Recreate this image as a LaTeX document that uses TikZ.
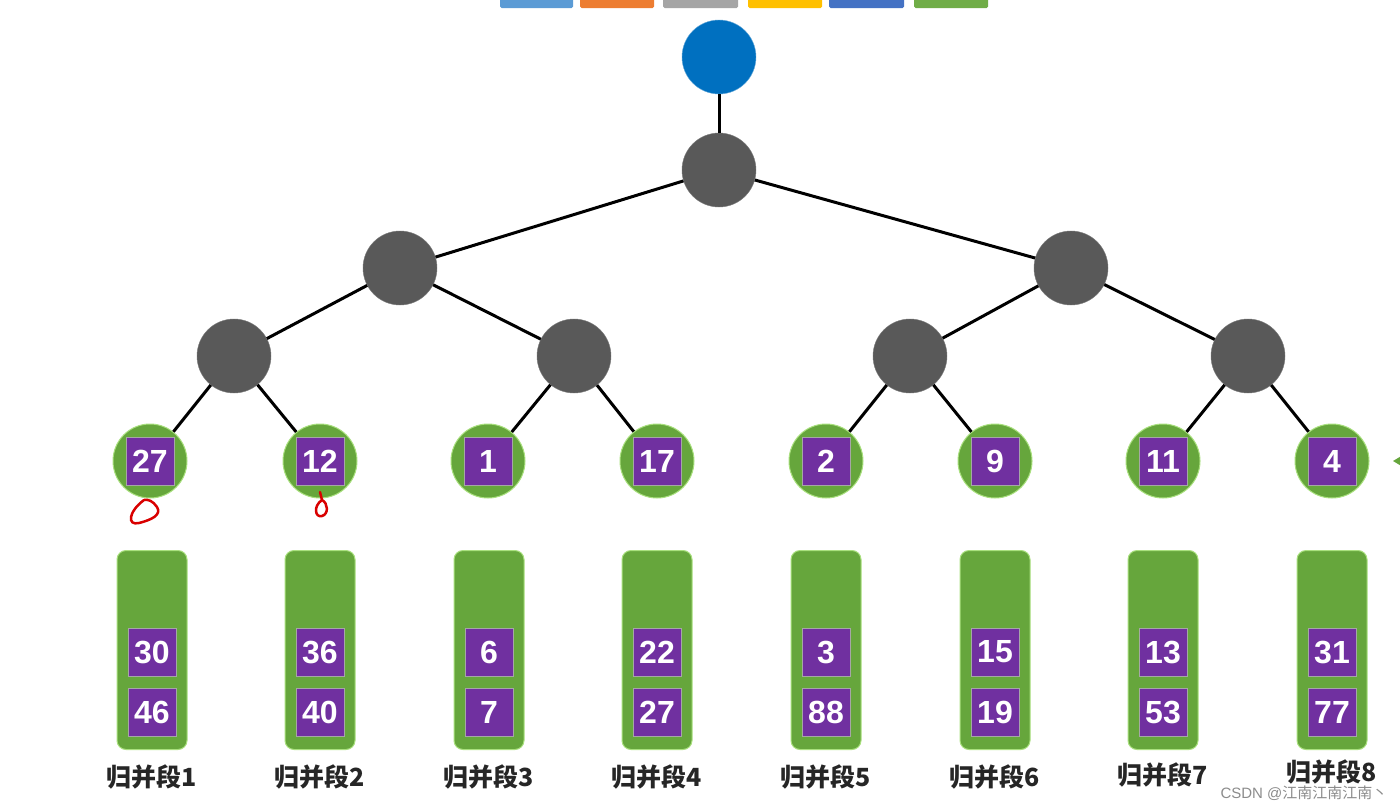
\documentclass[tikz,border=0pt]{standalone}
\usepackage{fontspec}
\setmainfont{Liberation Sans}
\newfontfamily\cjk{Noto Sans CJK SC}
\usepackage{tikz}
\usetikzlibrary{positioning}
\definecolor{barA}{HTML}{5B9BD5}
\definecolor{barB}{HTML}{ED7D31}
\definecolor{barC}{HTML}{A5A5A5}
\definecolor{barD}{HTML}{FFC000}
\definecolor{barE}{HTML}{4472C4}
\definecolor{barF}{HTML}{70AD47}
\definecolor{rootblue}{HTML}{0070C0}
\definecolor{nodegray}{HTML}{595959}
\definecolor{leafgreen}{HTML}{66A63C}
\definecolor{rimgreen}{HTML}{A9E07E}
\definecolor{numpurple}{HTML}{7030A0}
\tikzset{
  topnode/.style={circle,fill=rootblue,draw=rootblue!60,minimum size=74pt,inner sep=0pt},
  innode/.style={circle,fill=nodegray,draw=nodegray!80,minimum size=74pt,inner sep=0pt},
  leafnode/.style={circle,fill=leafgreen,draw=rimgreen,line width=1pt,minimum size=74pt,inner sep=0pt},
  numbox/.style={rectangle,fill=numpurple,draw=gray!70,line width=1pt,minimum size=48pt,inner sep=0pt,
    text=white,font=\bfseries\fontsize{32}{32}\selectfont},
  runbar/.style={rectangle,rounded corners=9pt,fill=leafgreen,draw=rimgreen,line width=1pt,
    minimum width=70pt,minimum height=199pt,inner sep=0pt},
  runlabel/.style={font=\cjk\bfseries\fontsize{25}{25}\selectfont,text=black!85,inner sep=0pt},
  edge/.style={line width=3pt,black}
}
\begin{document}
\begin{tikzpicture}[x=1pt,y=-1pt]
  \useasboundingbox[fill=white] (0,0) rectangle (1400,803);
  % colour bars along the top edge
  \foreach \xa/\xb/\c in {500/573/barA,580/654/barB,663/738/barC,748/822/barD,829/904/barE,914/988/barF}{
      \fill[\c,rounded corners=1.5pt] (\xa,-4) rectangle (\xb,8);}
  % tree
  \node[topnode] (top) at (719,57) {};
  \node[innode] (n1) at (719,170) {};
  \node[innode] (n2) at (400,268) {};
  \node[innode] (n3) at (1071,268) {};
  \node[innode] (n4) at (234,356) {};
  \node[innode] (n5) at (574,356) {};
  \node[innode] (n6) at (910,356) {};
  \node[innode] (n7) at (1248,356) {};
  \foreach \i/\x/\v in {1/150/27,2/320/12,3/488/1,4/657/17,5/826/2,6/995/9,7/1163/11,8/1332/4}{
      \node[leafnode] (l\i) at (\x,461) {};
      \node[numbox] (k\i) at (l\i) {\v};}
  \draw[edge] (top) -- (n1);
  \draw[edge] (n1) -- (n2); \draw[edge] (n1) -- (n3);
  \draw[edge] (n2) -- (n4); \draw[edge] (n2) -- (n5);
  \draw[edge] (n3) -- (n6); \draw[edge] (n3) -- (n7);
  \draw[edge] (n4) -- (l1); \draw[edge] (n4) -- (l2);
  \draw[edge] (n5) -- (l3); \draw[edge] (n5) -- (l4);
  \draw[edge] (n6) -- (l5); \draw[edge] (n6) -- (l6);
  \draw[edge] (n7) -- (l7); \draw[edge] (n7) -- (l8);
  % arrow tip cut off at the right edge
  \fill[leafgreen] (1393,461) -- (1403,455) -- (1403,467) -- cycle;
  % red pen marks
  \draw[red!85!black,line width=2.5pt,line cap=round,line join=round]
      (144,500) .. controls (128,512) and (127,526) .. (139,523)
      .. controls (151,520) and (162,515) .. (157,507) .. controls (153,501) and (148,499) .. (144,500);
  \draw[red!85!black,line width=2.5pt,line cap=round,line join=round]
      (320,492) -- (322,500) .. controls (313,506) and (315,518) .. (322,516)
      .. controls (329,514) and (328,503) .. (322,500);
  % merge runs
  \foreach \i/\x/\a/\b/\y in {1/152/30/46/777,2/320/36/40/777,3/489/6/7/777,4/657/22/27/777,5/826/3/88/777,6/995/15/19/777,7/1163/13/53/775,8/1332/31/77/772}{
      \node[runbar] (r\i) at (\x,650) {};
      \node[numbox] (r\i a) at (\x,652) {\a};
      \node[numbox] (r\i b) at (\x,712) {\b};
      \node[runlabel] (t\i) at (\x,\y) {归并段\i};}
  \node[inner sep=0pt,font=\fontsize{15}{15}\selectfont,text=gray!90] (wm) at (1304,793) {CSDN @{\cjk 江南江南江南丶}};
\end{tikzpicture}
\end{document}
